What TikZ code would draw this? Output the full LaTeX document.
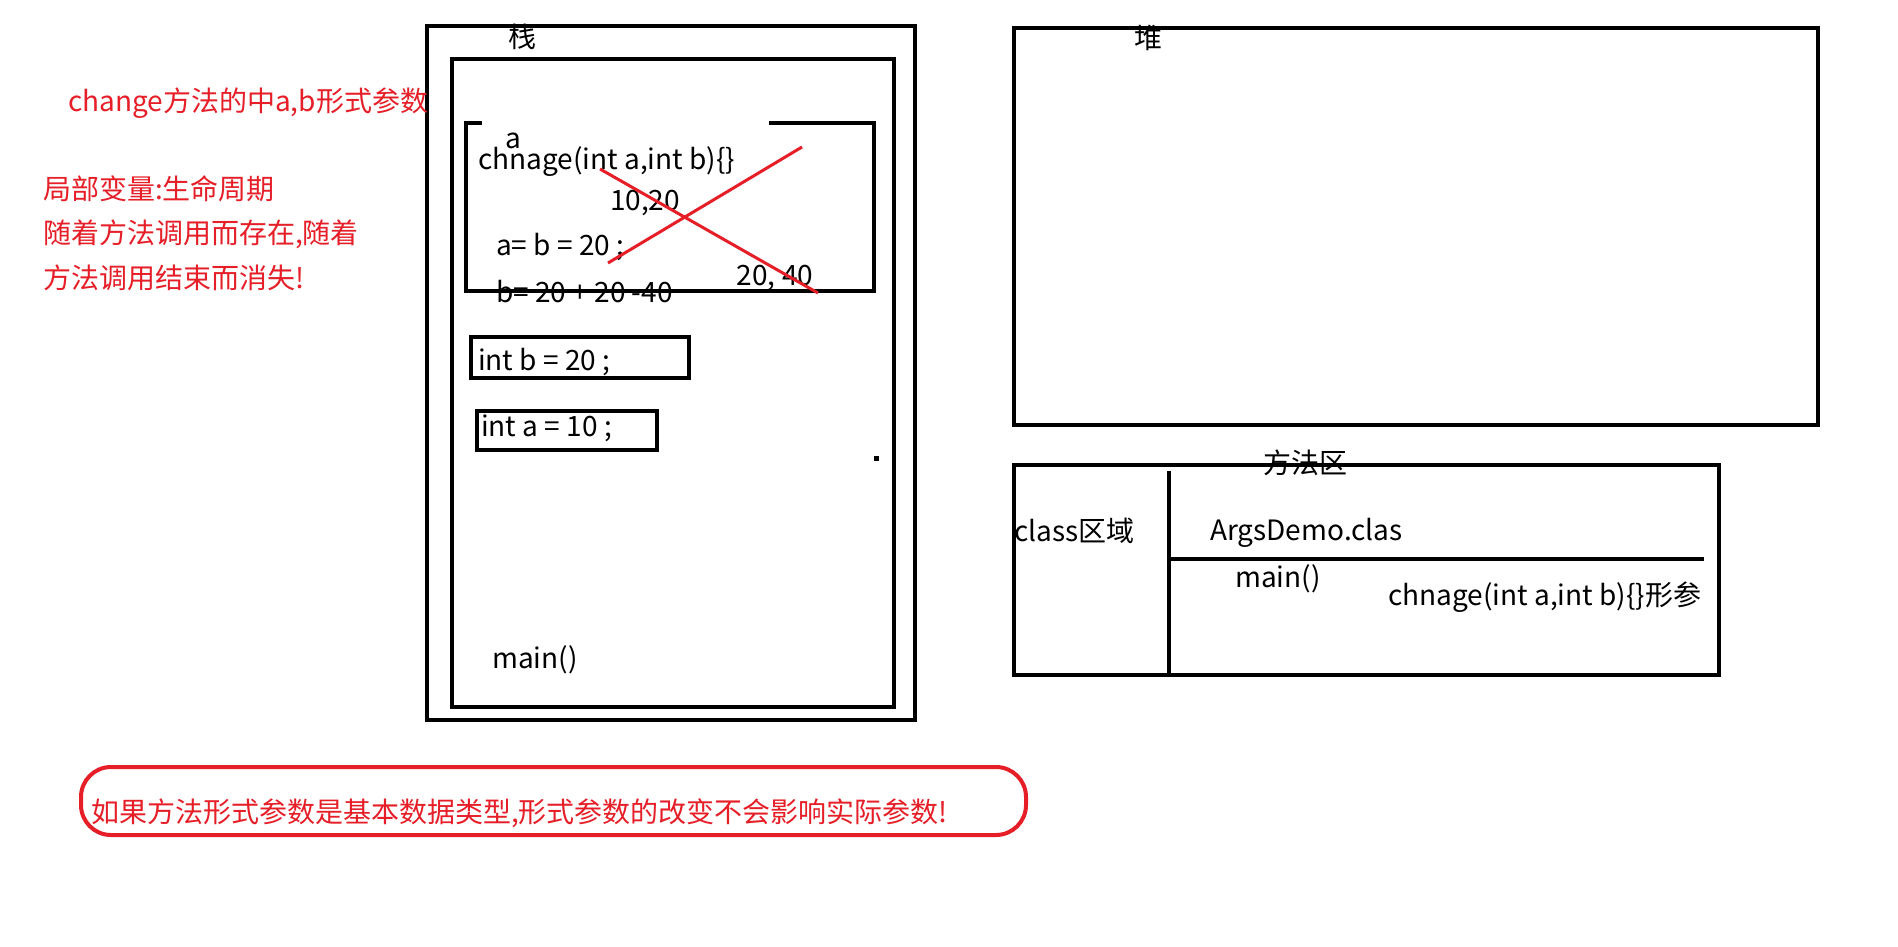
\documentclass[tikz,border=0pt]{standalone}
\usepackage{fontspec}
\setmainfont{Noto Sans CJK SC}
\usetikzlibrary{positioning,calc}
\definecolor{inkred}{RGB}{230,30,40}

\begin{document}
\begin{tikzpicture}[
    x=1pt, y=-1pt,
    box/.style={draw, rectangle, line width=4.5pt, inner sep=0pt},
    txt/.style={font=\fontsize{28}{32}\selectfont, inner sep=0pt, anchor=west},
    note/.style={txt, text=inkred},
    rule/.style={line width=4pt},
    cross/.style={draw=inkred, line width=3pt}
]
\useasboundingbox[fill=white] (0,0) rectangle (1898,947);

% Stack
\node[box, minimum width=488pt, minimum height=694pt] (stack) at (671,373) {};
\node[box, minimum width=442pt, minimum height=648pt] (frame) at (673,383) {};
\node[txt, anchor=center] (stacklbl) at (522,37) {栈};

% change() frame, open on top
\draw[rule] (482,123) -- (466,123) -- (466,291) -- (874,291) -- (874,123) -- (769,123);
\node[txt, anchor=center] (pa) at (513,141) {a};
\node[txt] (sig) at (478,162) {chnage(int a,int b)\{\}};
\node[txt, anchor=center] (args) at (645,203) {10,20};
\node[txt] (assign) at (496,247) {a= b = 20 ;};
\node[txt] (sum) at (496,292) {b= 20 + 20 -40};
\node[txt, anchor=center] (res) at (775,278) {20, 40};
\coordinate (x1) at (600,169);
\coordinate (x2) at (818,293);
\coordinate (x3) at (802,147);
\coordinate (x4) at (608,263);
\draw[cross] (x1) -- (x2);
\draw[cross] (x3) -- (x4);

% main() locals
\node[box, line width=4pt, minimum width=218pt, minimum height=41pt] (varb) at (580,357.5) {};
\node[txt] (varbtxt) at (478,362) {int b = 20 ;};
\node[box, line width=4pt, minimum width=180pt, minimum height=39pt] (vara) at (567,430.5) {};
\node[txt] (varatxt) at (481,428) {int a = 10 ;};
\node[fill, minimum size=5pt, inner sep=0pt] (dot) at (876,458) {};
\node[txt] (mainstk) at (492,660) {main()};

% Heap
\node[box, minimum width=804pt, minimum height=397pt] (heap) at (1416,226.5) {};
\node[txt, anchor=center] (heaplbl) at (1148,38) {堆};

% Method area
\node[box, minimum width=705pt, minimum height=210pt] (method) at (1366.5,570) {};
\node[txt, anchor=center] (methodlbl) at (1305,463) {方法区};
\coordinate (d1) at (1169,471);
\coordinate (d2) at (1169,675);
\coordinate (h2) at (1704,559);
\draw[rule] (d1) -- (d2);
\draw[rule] (d1 |- h2) -- (h2);
\node[txt] (classlbl) at (1014,531) {class区域};
\node[txt] (cls) at (1210,533) {ArgsDemo.clas};
\node[txt] (mainm) at (1235,579) {main()};
\node[txt] (chm) at (1388,597) {chnage(int a,int b)\{\}形参};

% Red notes
\node[note] (formal) at (68,103) {change方法的中a,b形式参数};
\node[note, align=left, font=\fontsize{28}{44.5}\selectfont] (life) at (43,233)
    {局部变量:生命周期\\随着方法调用而存在,随着\\方法调用结束而消失!};

% Conclusion
\node[draw=inkred, line width=4pt, rounded corners=30pt, inner sep=0pt,
      minimum width=945pt, minimum height=68pt] (concl) at (553.5,801) {};
\node[note] (concltxt) at (91,813) {如果方法形式参数是基本数据类型,形式参数的改变不会影响实际参数!};
\end{tikzpicture}
\end{document}
